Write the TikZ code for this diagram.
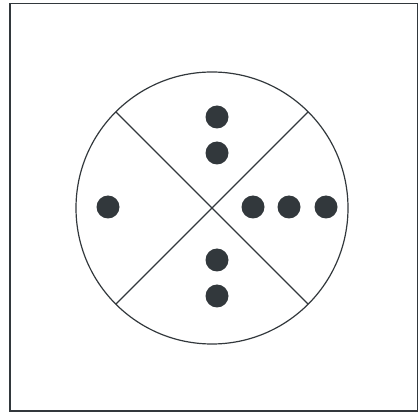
\documentclass[tikz,border=0pt]{standalone}
\usepackage{xcolor}
\usepackage{tikz}
\definecolor{ink}{RGB}{50,56,60}

\begin{document}
\begin{tikzpicture}[
x=1pt,y=-1pt,
frame/.style={draw=ink, line width=1.8pt},
ring/.style={draw=ink, line width=1.2pt},
cut/.style={draw=ink, line width=1.1pt},
dot/.style={circle, fill=ink, inner sep=0pt, minimum size=23pt}
]
\useasboundingbox (0,0) rectangle (418,414);
\draw[frame] (10,3.5) rectangle (417.5,411);
\coordinate (c) at (212,208);
\draw[ring] (c) circle (136);
\draw[cut] (c) ++(135:136) coordinate (sw) -- ++(-45:272) coordinate (ne);
\draw[cut] (c) ++(45:136) coordinate (se) -- ++(225:272) coordinate (nw);
\node[dot] (l1) at (108,207) {};
\foreach \y/\n in {117/t1,153/t2,260/b1,296/b2} {\node[dot] (\n) at (217,\y) {};}
\foreach \x/\n in {253/r1,289/r2,326/r3} {\node[dot] (\n) at (\x,207) {};}
\end{tikzpicture}
\end{document}
